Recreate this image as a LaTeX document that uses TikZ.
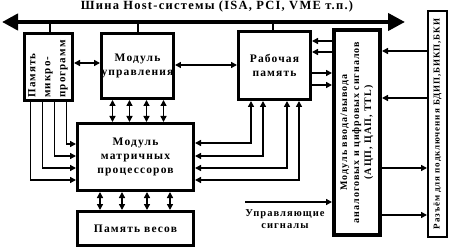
\documentclass[tikz,border=0pt]{standalone}
\usepackage{fontspec}
\setmainfont{Liberation Serif}[LetterSpace=10]
\usetikzlibrary{arrows.meta, calc, positioning}

\tikzset{
  blk/.style={draw, line width=3pt, fill=white, align=center, inner sep=0pt,
    font=\fontsize{11.5}{14}\selectfont\bfseries},
  txt/.style={align=center, inner sep=0pt, font=\fontsize{10}{12}\selectfont\bfseries},
  conn/.style={line width=1.6pt, -{Triangle[length=6pt,width=6pt]}},
  both/.style={line width=1.6pt, {Triangle[length=6pt,width=6pt]}-{Triangle[length=6pt,width=6pt]}},
  bus/.style={line width=4pt, {Triangle[length=16pt,width=16pt]}-{Triangle[length=17pt,width=17pt]}},
  stub/.style={line width=2pt},
}

\begin{document}
\begin{tikzpicture}[x=1pt, y=-1pt]
  \useasboundingbox (0,0) rectangle (450,251);

  % host bus
  \coordinate (busL) at (2,22);
  \coordinate (busR) at (405,22);
  \draw[bus] (busL) -- (busR);
  \node[txt, font=\fontsize{12.5}{13}\selectfont\bfseries] (bustitle) at (217,6) {Шина Host-системы (ISA, PCI, VME т.п.)};

  % blocks
  \node[blk, minimum width=48pt, minimum height=67pt] (pmp) at (48.5,67) {};
  \node[blk, draw=none, fill=none, rotate=90, align=left, font=\fontsize{11}{15}\selectfont\bfseries] (pmptxt) at (48,69) {Память\\микро-\\программ};
  \node[blk, minimum width=68pt, minimum height=65pt] (mu) at (137.5,66) {Модуль\\управления};
  \node[blk, minimum width=72pt, minimum height=68pt] (rp) at (274.5,65.5) {Рабочая\\память};
  \node[blk, minimum width=116pt, minimum height=67pt] (mat) at (135.5,157) {Модуль\\матричных\\процессоров};
  \node[blk, minimum width=116pt, minimum height=34pt] (pv) at (135.5,228.5) {Память весов};
  \node[blk, line width=4pt, minimum width=46pt, minimum height=205pt] (io) at (357,132.5) {};
  \node[txt, rotate=90, font=\fontsize{10}{12}\selectfont\bfseries] (iotxt) at (io) {Модуль ввода/вывода\\аналоговых и цифровых сигналов\\(АЦП, ЦАП, TTL)};
  \node[blk, line width=2pt, minimum width=19pt, minimum height=226pt] (raz) at (437.5,124) {};
  \node[txt, rotate=90, font=\fontsize{9}{11}\selectfont\bfseries] (raztxt) at (raz) {Разъём для подключения БДИП,БИКП,БКИ};

  % taps on the bus
  \draw[stub] ([xshift=1.5pt]pmp.north) -- ([xshift=1.5pt]pmp.north |- busL);
  \draw[stub] (mu.north) -- (mu.north |- busL);
  \draw[stub] ([xshift=-1.5pt]rp.north) -- ([xshift=-1.5pt]rp.north |- busL);

  % links between blocks
  \draw[both] ([yshift=4pt]pmp.east) -- ([yshift=4pt]pmp.east -| mu.west);
  \draw[both] ([yshift=1pt]mu.east) -- ([yshift=1pt]mu.east -| rp.west);
  \foreach \dx in {-25,-8,9,26}
    \draw[both] ([xshift=\dx pt]mu.south) -- ([xshift=\dx pt]mu.south |- mat.north);
  \foreach \dx in {-35.5,-13.5,11.5,34.5}
    \draw[both] ([xshift=\dx pt]mat.south) -- ([xshift=\dx pt]mat.south |- pv.north);
  \foreach \dx/\dy in {-18/-23,-6/-11,6/1,18/13}
    \draw[conn] ([xshift=\dx pt]pmp.south) |- ([yshift=\dy pt]mat.west);
  \foreach \dx/\dy in {-23.5/14,-11.5/1,12.5/-11,24.5/-23}
    \draw[both] ([xshift=\dx pt]rp.south) |- ([yshift=\dy pt]mat.east);

  % working memory and i/o module
  \foreach \dy in {24.5,13.5}
    \draw[conn] ([yshift=\dy pt]rp.east -| io.west) -- ([yshift=\dy pt]rp.east);
  \foreach \dy in {-7.5,-19.5}
    \draw[conn] ([yshift=\dy pt]rp.east) -- ([yshift=\dy pt]rp.east -| io.west);

  % connector and i/o module
  \foreach \dy in {73,26}
    \draw[conn] ([yshift=\dy pt]raz.west) -- ([yshift=\dy pt]raz.west -| io.east);
  \foreach \dy in {-44,-91}
    \draw[conn] ([yshift=\dy pt]raz.west -| io.east) -- ([yshift=\dy pt]raz.west);

  % control signals
  \coordinate (ctl) at (245,202);
  \draw[conn] (ctl) -- (ctl -| io.west);
  \node[txt, font=\fontsize{10.5}{12}\selectfont\bfseries] (ctltxt) at (285,219) {Управляющие\\сигналы};
\end{tikzpicture}
\end{document}
